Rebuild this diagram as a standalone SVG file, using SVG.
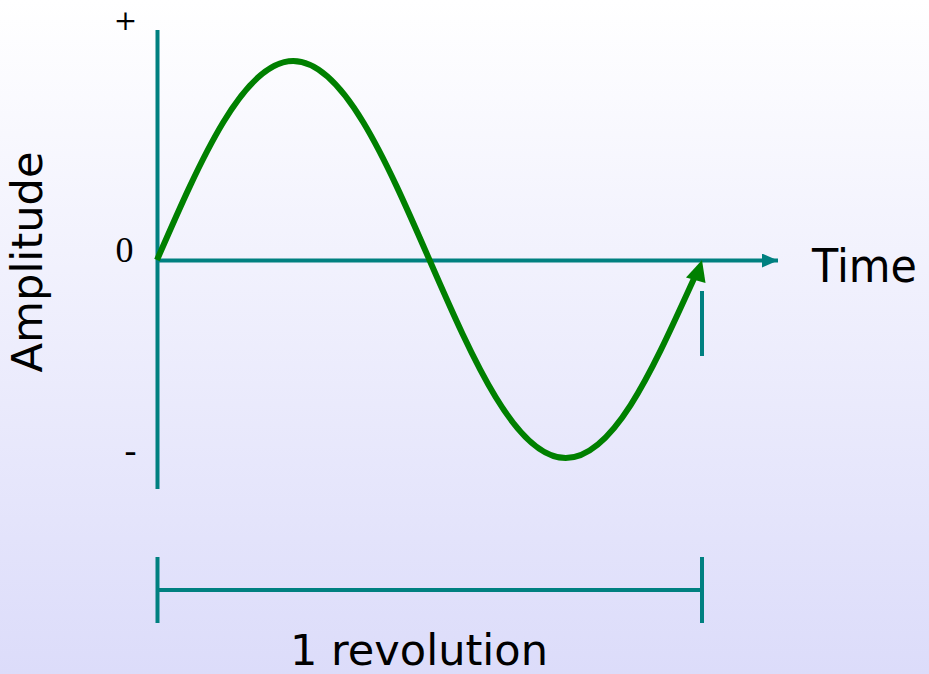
<svg xmlns="http://www.w3.org/2000/svg" width="929" height="674" viewBox="0 0 929 674">
<defs>
<linearGradient id="bg" x1="0" y1="0" x2="0" y2="1">
<stop offset="0" stop-color="#ffffff"/>
<stop offset="1" stop-color="#dcdcfa"/>
</linearGradient>
<marker id="axArrow" markerUnits="userSpaceOnUse" markerWidth="20" markerHeight="16" refX="16" refY="7" orient="auto">
<path d="M0,0 L16,7 L0,14 z" fill="#008080"/>
</marker>
<style>
.axis{stroke:#008080;stroke-width:4;fill:none}
.wave{stroke:#008000;stroke-width:6;fill:none;stroke-linejoin:round}
.lbl{font-family:"Liberation Serif",serif;fill:#000}
.hand{font-family:"DejaVu Sans","Liberation Sans",sans-serif;fill:#000}
</style>
</defs>
<rect width="929" height="674" fill="url(#bg)"/>
<g id="connectors">
<line id="y-axis" class="axis" x1="157.5" y1="30" x2="157.5" y2="489"/>
<line id="x-axis" class="axis" x1="157.5" y1="260.5" x2="778" y2="260.5" stroke-width="3.5" marker-end="url(#axArrow)"/>
<line id="end-tick" class="axis" x1="702" y1="291" x2="702" y2="356" stroke-width="3.5"/>
<line id="dim-line" class="axis" x1="157.5" y1="590" x2="702" y2="590" stroke-width="3.5"/>
<line id="dim-left" class="axis" x1="157.5" y1="557" x2="157.5" y2="623" stroke-width="3.5"/>
<line id="dim-right" class="axis" x1="702" y1="557" x2="702" y2="623" stroke-width="3.5"/>
</g>
<g id="wave">
<path class="wave" d="M157,260 C201.4,158 243.9,61 293.25,61 C342.6,61 385.1,158 429.5,260 C473.9,362 516.4,458 565.75,458 C615.1,458 655,364 697,272"/>
<polygon points="702,260 686,277.5 705.5,283" fill="#008000"/>
</g>
<g id="labels">
<text x="125.5" y="30" font-size="28" text-anchor="middle" font-family="'DejaVu Serif',serif" fill="#000">+</text>
<text class="lbl" x="124.5" y="262" font-size="36" text-anchor="middle">0</text>
<text class="lbl" x="130.5" y="462" font-size="36" text-anchor="middle">-</text>
<text class="hand" x="812" y="282" font-size="46" textLength="105" lengthAdjust="spacingAndGlyphs">Time</text>
<text class="hand" transform="translate(42,262) rotate(-90)" font-size="42" text-anchor="middle" textLength="221" lengthAdjust="spacingAndGlyphs">Amplitude</text>
<text class="hand" x="419" y="665" font-size="42" text-anchor="middle" textLength="258" lengthAdjust="spacingAndGlyphs">1 revolution</text>
</g>
</svg>
